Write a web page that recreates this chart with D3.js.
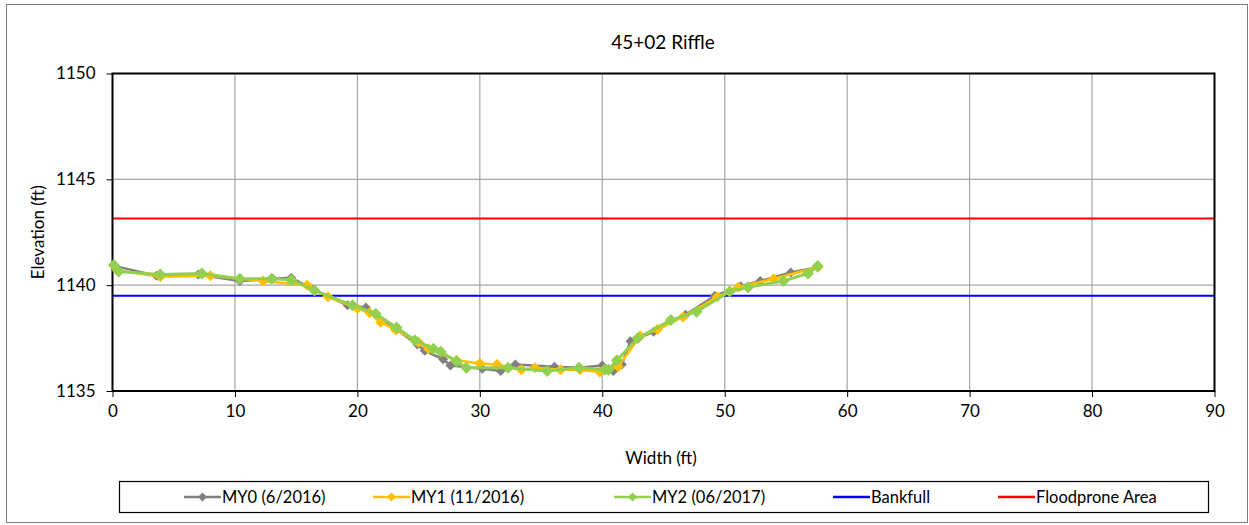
<!doctype html>
<html>
<head>
<meta charset="utf-8">
<title>45+02 Riffle</title>
<script src="https://cdn.jsdelivr.net/npm/d3@7"></script>
<style>
  body { margin: 0; background: #fff; }
  svg text { font-family: Lato, "Liberation Sans", sans-serif; fill: #000; }
</style>
</head>
<body>
<svg id="chart"></svg>
<script>
// station (ft), elevation (ft)
const my0 = [
  [0.2, 1140.9], [3.6, 1140.45], [7.0, 1140.5], [10.4, 1140.2], [13.1, 1140.3], [14.6, 1140.35],
  [16.4, 1139.8], [19.2, 1139.05], [20.7, 1138.95], [23.2, 1137.9], [24.9, 1137.2], [25.5, 1136.9],
  [27.0, 1136.5], [27.6, 1136.2], [30.2, 1136.05], [31.7, 1135.95], [32.9, 1136.25], [36.1, 1136.15],
  [38.1, 1136.1], [40.0, 1136.2], [40.9, 1135.95], [41.6, 1136.25], [42.3, 1137.35], [44.2, 1137.8],
  [46.8, 1138.6], [49.2, 1139.5], [51.3, 1139.95], [52.9, 1140.2], [55.4, 1140.6], [57.6, 1140.85]
];
const my1 = [
  [0.4, 1140.7], [3.9, 1140.4], [8.0, 1140.45], [12.3, 1140.2], [15.9, 1140.0], [17.6, 1139.45],
  [20.0, 1138.9], [21.0, 1138.7], [21.9, 1138.25], [23.1, 1137.9], [25.0, 1137.3], [25.8, 1137.0],
  [28.1, 1136.45], [30.0, 1136.3], [31.4, 1136.25], [33.4, 1136.0], [34.5, 1136.1], [36.6, 1136.0],
  [38.2, 1136.0], [39.8, 1135.9], [41.3, 1136.15], [43.1, 1137.6], [44.5, 1137.9], [46.6, 1138.5],
  [49.4, 1139.45], [51.1, 1139.9], [54.0, 1140.3], [57.6, 1140.85]
];
const my2 = [
  [0.1, 1140.95], [0.5, 1140.65], [3.9, 1140.5], [7.3, 1140.55], [10.4, 1140.3], [13.0, 1140.3],
  [14.6, 1140.25], [16.5, 1139.75], [19.6, 1139.05], [21.5, 1138.65], [23.2, 1138.0], [24.7, 1137.4],
  [26.2, 1137.0], [26.8, 1136.85], [28.1, 1136.4], [28.9, 1136.1], [32.3, 1136.1], [35.5, 1135.95],
  [38.1, 1136.1], [40.2, 1136.0], [40.5, 1136.0], [41.2, 1136.45], [42.9, 1137.5], [45.6, 1138.35],
  [47.7, 1138.75], [50.4, 1139.7], [51.9, 1139.9], [54.8, 1140.2], [56.8, 1140.55], [57.6, 1140.9]
];
const bankfull = 1139.5;
const floodprone = 1143.15;

const xTicks = [0, 10, 20, 30, 40, 50, 60, 70, 80, 90];
const yTicks = [1135, 1140, 1145, 1150];

const series = [
  { name: "MY0 (6/2016)", data: my0, color: "#808080", marker: 5, width: 2.5 },
  { name: "MY1 (11/2016)", data: my1, color: "#ffc000", marker: 5.5, width: 2.5 },
  { name: "MY2 (06/2017)", data: my2, color: "#92d050", marker: 6, width: 3 }
];
const refLines = [
  { name: "Bankfull", value: bankfull, color: "#0000ff" },
  { name: "Floodprone Area", value: floodprone, color: "#ff0000" }
];

const W = 1249, H = 525;
const plot = { left: 112.5, right: 1214.5, top: 73.5, bottom: 391 };

const svg = d3.select("#chart").attr("width", W).attr("height", H);

// outer chart frame
svg.append("rect")
  .attr("x", 6.5).attr("y", 4.5).attr("width", 1241).attr("height", 518)
  .attr("fill", "#fff").attr("stroke", "#7f7f7f").attr("stroke-width", 1);

const x = d3.scaleLinear().domain([0, 90]).range([plot.left, plot.right]);
const y = d3.scaleLinear().domain([1135, 1150]).range([plot.bottom, plot.top]);

// gridlines
svg.append("g")
  .selectAll("line.vg")
  .data(xTicks.slice(1, -1))
  .join("line")
  .attr("x1", d => x(d)).attr("x2", d => x(d))
  .attr("y1", plot.top).attr("y2", plot.bottom)
  .attr("stroke", "#a6a6a6").attr("stroke-width", 1.2);
svg.append("g")
  .selectAll("line.hg")
  .data(yTicks.slice(1, -1))
  .join("line")
  .attr("x1", plot.left).attr("x2", plot.right)
  .attr("y1", d => y(d)).attr("y2", d => y(d))
  .attr("stroke", "#a6a6a6").attr("stroke-width", 1.2);

// axes
const xAxis = svg.append("g")
  .attr("transform", `translate(0,${plot.bottom})`)
  .call(d3.axisBottom(x).tickValues(xTicks).tickSize(6).tickPadding(8).tickFormat(d3.format("d")));
const yAxis = svg.append("g")
  .attr("transform", `translate(${plot.left},0)`)
  .call(d3.axisLeft(y).tickValues(yTicks).tickSize(6).tickPadding(11).tickFormat(d3.format("d")));
[xAxis, yAxis].forEach(a => {
  a.select(".domain").remove();
  a.selectAll(".tick line").attr("stroke", "#000");
  a.selectAll(".tick text").attr("font-size", 17).attr("font-family", "Lato, 'Liberation Sans', sans-serif");
});

// reference lines
svg.append("g")
  .selectAll("line")
  .data(refLines)
  .join("line")
  .attr("x1", plot.left).attr("x2", plot.right)
  .attr("y1", d => y(d.value)).attr("y2", d => y(d.value))
  .attr("stroke", d => d.color).attr("stroke-width", 1.8);

// plot border
svg.append("rect")
  .attr("x", plot.left).attr("y", plot.top)
  .attr("width", plot.right - plot.left).attr("height", plot.bottom - plot.top)
  .attr("fill", "none").attr("stroke", "#000").attr("stroke-width", 2);

const diamond = (r) => `M0,${-r}L${r},0L0,${r}L${-r},0Z`;
const line = d3.line().x(d => x(d[0])).y(d => y(d[1]));

const sg = svg.append("g")
  .selectAll("g")
  .data(series)
  .join("g");
sg.append("path")
  .attr("d", d => line(d.data))
  .attr("fill", "none")
  .attr("stroke", d => d.color)
  .attr("stroke-width", d => d.width)
  .attr("stroke-linejoin", "round");
sg.each(function(s) {
  d3.select(this).selectAll("path.pt")
    .data(s.data)
    .join("path")
    .attr("class", "pt")
    .attr("transform", d => `translate(${x(d[0])},${y(d[1])})`)
    .attr("d", diamond(s.marker))
    .attr("fill", s.color);
});

// titles
svg.append("text")
  .attr("x", 663).attr("y", 49)
  .attr("text-anchor", "middle").attr("font-size", 19)
  .text("45+02 Riffle");
svg.append("text")
  .attr("x", 661).attr("y", 464)
  .attr("text-anchor", "middle").attr("font-size", 17)
  .text("Width (ft)");
svg.append("text")
  .attr("transform", `translate(44,${(plot.top + plot.bottom) / 2}) rotate(-90)`)
  .attr("text-anchor", "middle").attr("font-size", 17)
  .text("Elevation (ft)");

// legend
svg.append("rect")
  .attr("x", 119.5).attr("y", 481.5).attr("width", 1089).attr("height", 31)
  .attr("fill", "#fff").attr("stroke", "#000").attr("stroke-width", 1.2);

const legendItems = [
  ...series.map(s => ({ name: s.name, color: s.color, marker: true })),
  ...refLines.map(r => ({ name: r.name, color: r.color, marker: false }))
];
const legendX = [184, 373, 614, 833, 998];
const lg = svg.append("g")
  .selectAll("g")
  .data(legendItems)
  .join("g")
  .attr("transform", (d, i) => `translate(${legendX[i]},497)`);
lg.append("line")
  .attr("x1", 0).attr("x2", 37)
  .attr("stroke", d => d.color).attr("stroke-width", 2.5);
lg.filter(d => d.marker).append("path")
  .attr("transform", "translate(18.5,0)")
  .attr("d", diamond(4.5))
  .attr("fill", d => d.color);
lg.append("text")
  .attr("x", 38).attr("dy", "0.35em")
  .attr("font-size", 16.5)
  .text(d => d.name);
</script>
</body>
</html>
